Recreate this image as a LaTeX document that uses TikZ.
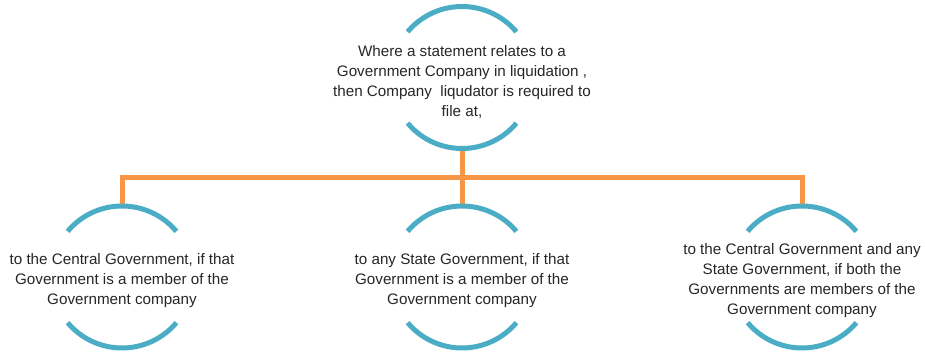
\documentclass[tikz,border=0pt]{standalone}
\usepackage{fontspec}
\setmainfont{Liberation Sans}
\usepackage{tikz}
\usetikzlibrary{calc}
\definecolor{ringblue}{HTML}{4BACC6}
\definecolor{linkorange}{HTML}{F79646}
\definecolor{txtgray}{HTML}{262626}
\def\ringr{71}
\def\textdrop{4}

\begin{document}
\begin{tikzpicture}[x=1pt,y=1pt,
    ring/.style={draw=ringblue,line width=5pt},
    link/.style={draw=linkorange,line width=5pt},
    txt/.style={rectangle,inner sep=0pt,minimum height=142pt,align=center,yshift=-\textdrop pt,
        text=txtgray,font=\fontsize{15.2}{20}\selectfont}]
    \useasboundingbox (0,0) rectangle (925,351);
    \node[txt] (top) at (462,273.5) {Where a statement relates to a\\Government Company in liquidation ,\\then Company\ \ liqudator is required to\\file at,};
    \node[txt] (left) at (122,74) {to the Central Government, if that\\Government is a member of the\\Government company};
    \node[txt] (mid) at (462,74) {to any State Government, if that\\Government is a member of the\\Government company};
    \node[txt] (right) at (802,74) {to the Central Government and any\\State Government, if both the\\Governments are members of the\\Government company};
    \coordinate (bus) at (462,173);
    % connectors
    \draw[link,shorten <=-4pt] (top.south) -- (bus);
    \draw[link,shorten >=4pt] (bus) -| (left.north);
    \draw[link,shorten >=4pt] (bus) -- (mid.north);
    \draw[link,shorten >=4pt] (bus) -| (right.north);
    % arcs
    \foreach \n in {top,left,mid,right} {
        \draw[ring] ($(\n.center)+(0,\textdrop)+(40:\ringr)$) arc[start angle=40,end angle=140,radius=\ringr];
        \draw[ring] ($(\n.center)+(0,\textdrop)+(220:\ringr)$) arc[start angle=220,end angle=320,radius=\ringr];
    }
\end{tikzpicture}
\end{document}
